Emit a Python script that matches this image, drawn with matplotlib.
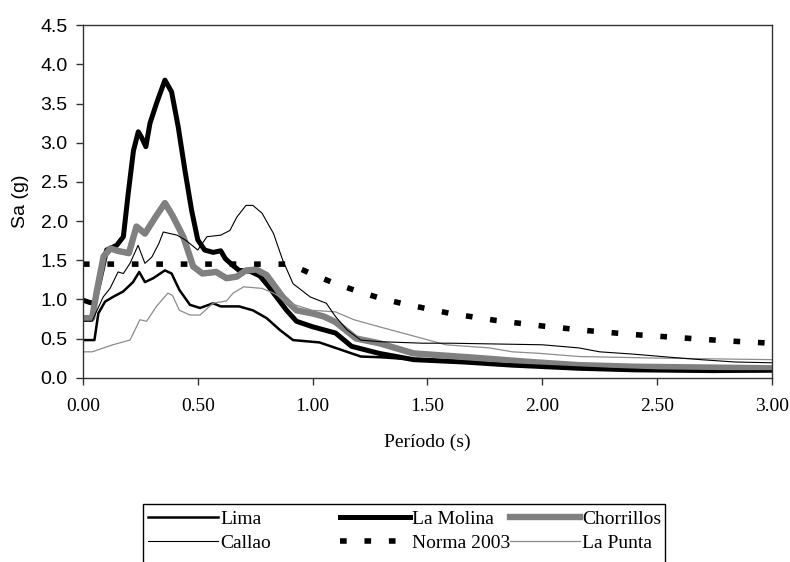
import matplotlib
matplotlib.use("Agg")
import matplotlib.pyplot as plt
from matplotlib.patches import Rectangle

# ---------- data ----------
lima_t = [0, 0.05, 0.067, 0.096, 0.13, 0.175, 0.218, 0.245, 0.27, 0.306, 0.357, 0.386,
          0.42, 0.466, 0.51, 0.567, 0.6, 0.68, 0.74, 0.8, 0.857, 0.915, 1.03, 1.13, 1.21,
          1.3, 1.5, 1.7, 2.0, 2.3, 2.5, 2.8, 3.0]
lima_sa = [0.48, 0.48, 0.82, 0.97, 1.03, 1.10, 1.22, 1.35, 1.22, 1.27, 1.37, 1.33,
           1.12, 0.93, 0.89, 0.95, 0.91, 0.91, 0.86, 0.76, 0.61, 0.48, 0.45, 0.35, 0.27,
           0.26, 0.22, 0.19, 0.15, 0.11, 0.09, 0.08, 0.08]

molina_t = [0, 0.03, 0.05, 0.074, 0.103, 0.147, 0.176, 0.197, 0.22, 0.241, 0.255, 0.274,
            0.292, 0.32, 0.357, 0.386, 0.415, 0.444, 0.473, 0.50, 0.53, 0.567, 0.6, 0.62,
            0.65, 0.68, 0.727, 0.77, 0.81, 0.83, 0.887, 0.93, 1.0, 1.1, 1.17, 1.29, 1.44,
            1.66, 1.87, 2.16, 2.4, 2.75, 3.0]
molina_sa = [0.99, 0.96, 0.95, 1.25, 1.63, 1.69, 1.80, 2.35, 2.90, 3.14, 3.07, 2.95,
             3.25, 3.50, 3.80, 3.65, 3.20, 2.65, 2.14, 1.76, 1.63, 1.60, 1.62, 1.52,
             1.44, 1.37, 1.36, 1.30, 1.16, 1.08, 0.86, 0.72, 0.65, 0.57, 0.40, 0.31, 0.23,
             0.20, 0.16, 0.12, 0.10, 0.09, 0.10]

chorr_t = [0, 0.04, 0.06, 0.09, 0.12, 0.15, 0.2, 0.233, 0.27, 0.32, 0.357, 0.39, 0.437,
           0.48, 0.52, 0.58, 0.625, 0.67, 0.71, 0.756, 0.8, 0.87, 0.93, 1.0, 1.05, 1.1,
           1.19, 1.29, 1.44, 1.73, 1.95, 2.16, 2.4, 2.7, 3.0]
chorr_sa = [0.76, 0.76, 1.10, 1.55, 1.65, 1.62, 1.59, 1.93, 1.84, 2.07, 2.23, 2.07, 1.80,
            1.42, 1.33, 1.35, 1.27, 1.29, 1.37, 1.38, 1.31, 1.03, 0.86, 0.82, 0.78, 0.71,
            0.50, 0.44, 0.31, 0.25, 0.20, 0.16, 0.14, 0.13, 0.12]

callao_t = [0, 0.04, 0.06, 0.088, 0.118, 0.153, 0.176, 0.205, 0.24, 0.27, 0.30, 0.33,
            0.35, 0.41, 0.45, 0.50, 0.54, 0.6, 0.64, 0.67, 0.71, 0.74, 0.78, 0.83, 0.87,
            0.915, 0.99, 1.06, 1.1, 1.15, 1.21, 1.29, 1.48, 1.6, 2.0, 2.16, 2.25, 2.4,
            2.56, 2.69, 2.84, 3.0]
callao_sa = [0.72, 0.72, 0.85, 1.03, 1.14, 1.35, 1.33, 1.46, 1.69, 1.46, 1.54, 1.71,
             1.86, 1.82, 1.75, 1.63, 1.80, 1.82, 1.88, 2.05, 2.20, 2.20, 2.10, 1.84, 1.50,
             1.20, 1.03, 0.95, 0.78, 0.61, 0.48, 0.46, 0.44, 0.44, 0.42, 0.38, 0.33, 0.30,
             0.26, 0.23, 0.20, 0.19]

punta_t = [0, 0.04, 0.13, 0.205, 0.248, 0.277, 0.32, 0.37, 0.39, 0.42, 0.466, 0.51,
           0.566, 0.625, 0.654, 0.70, 0.78, 0.83, 0.9, 1.0, 1.1, 1.18, 1.29, 1.48, 1.58,
           1.77, 1.87, 1.99, 2.16, 2.5, 3.0]
punta_sa = [0.33, 0.33, 0.42, 0.48, 0.74, 0.72, 0.91, 1.08, 1.05, 0.86, 0.80, 0.80,
            0.95, 0.98, 1.08, 1.16, 1.14, 1.08, 0.95, 0.86, 0.84, 0.74, 0.65, 0.50, 0.42,
            0.38, 0.33, 0.31, 0.27, 0.25, 0.23]

norma_t = [0, 0.9, 1.0, 1.1, 1.2, 1.3, 1.4, 1.5, 1.6, 1.8, 2.0, 2.2, 2.4, 2.6, 2.8, 3.0]
norma_sa = [1.45, 1.45, 1.32, 1.20, 1.10, 1.01, 0.94, 0.88, 0.82, 0.73, 0.66, 0.60,
            0.55, 0.51, 0.47, 0.44]

x_ticks = [0, 0.5, 1.0, 1.5, 2.0, 2.5, 3.0]
y_ticks = [0, 0.5, 1.0, 1.5, 2.0, 2.5, 3.0, 3.5, 4.0, 4.5]

serif = "Liberation Serif"
sans = "Liberation Sans"
W, H = 790, 562

fig = plt.figure(figsize=(7.9, 5.62), dpi=100)
ax = fig.add_axes([0.105, 0.328, 0.872, 0.627])

h_molina, = ax.plot(molina_t, molina_sa, color="black", lw=3.6, label="La Molina")
h_chorr, = ax.plot(chorr_t, chorr_sa, color="#808080", lw=4.6, label="Chorrillos")
h_lima, = ax.plot(lima_t, lima_sa, color="black", lw=1.8, label="Lima")
h_punta, = ax.plot(punta_t, punta_sa, color="#8c8c8c", lw=0.9, label="La Punta")
h_callao, = ax.plot(callao_t, callao_sa, color="black", lw=0.8, label="Callao")
h_norma, = ax.plot(norma_t, norma_sa, color="black", lw=4.0,
                   linestyle=(0, (1.2, 3.2)), label="Norma 2003")

ax.set_xlim(0, 3.0)
ax.set_ylim(0, 4.5)
ax.set_xticks(x_ticks)
ax.set_xticklabels([f"{v:.2f}" for v in x_ticks], fontfamily=serif, fontsize=14)
ax.set_yticks(y_ticks)
ax.set_yticklabels([f"{v:.1f}" for v in y_ticks], fontfamily=sans, fontsize=14)
ax.tick_params(direction="out", length=5, width=1, color="#333333", pad=6)
ax.tick_params(axis="x", pad=10)
for s in ax.spines.values():
    s.set_color("#333333")
    s.set_linewidth(1.0)

ax.set_xlabel("Período (s)", fontfamily=serif, fontsize=14, labelpad=13)
ax.set_ylabel("Sa (g)", fontfamily=sans, fontsize=14, labelpad=8)

# legend: Excel-style box with three fixed-position columns
fig.add_artist(Rectangle((143 / W, (H - 575) / H), (665 - 143) / W, (575 - 504) / H,
                         transform=fig.transFigure, fill=False, edgecolor="black",
                         lw=1.0, clip_on=False))
columns = [(148, [h_lima, h_callao]), (340, [h_molina, h_norma]),
           (510, [h_chorr, h_punta])]
for x_px, hs in columns:
    lg = fig.legend(hs, [h.get_label() for h in hs], loc="upper left",
                    bbox_to_anchor=(x_px / W, (H - 510) / H),
                    bbox_transform=fig.transFigure, borderaxespad=0, borderpad=0,
                    prop={"family": serif, "size": 14}, handlelength=3.6,
                    handletextpad=0.1, labelspacing=0.35, frameon=False)

fig.savefig("out.png", dpi=100)
